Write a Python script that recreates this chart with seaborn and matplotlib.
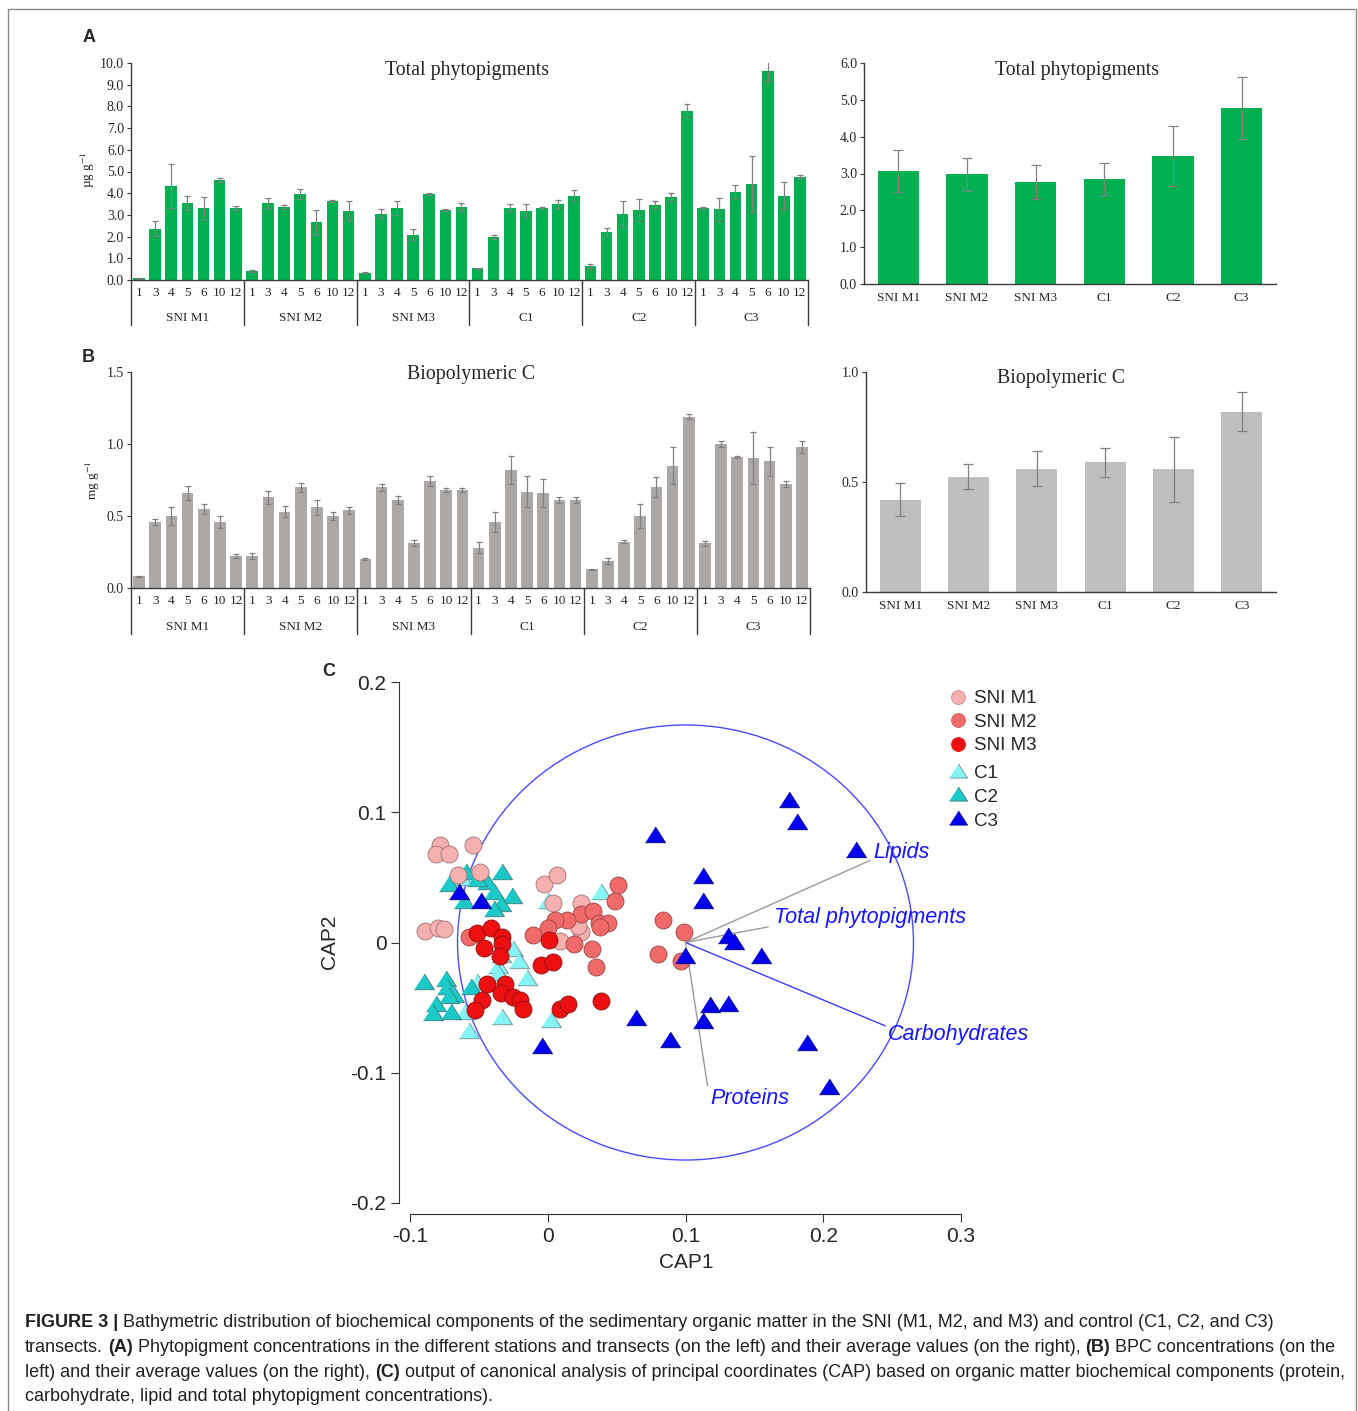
import numpy as np
import matplotlib
matplotlib.use("Agg")
import matplotlib.pyplot as plt
import matplotlib.transforms as mtrans
from matplotlib.lines import Line2D
from matplotlib.patches import Ellipse, Rectangle
from matplotlib.ticker import FormatStrFormatter
import seaborn as sns

# ---------------- data ----------------
stations = ["1", "3", "4", "5", "6", "10", "12"]
transects = ["SNI M1", "SNI M2", "SNI M3", "C1", "C2", "C3"]

# total phytopigments per station (ug/g), transect by transect
phyto = [0.08, 2.37, 4.33, 3.56, 3.30, 4.61, 3.33,
         0.42, 3.56, 3.37, 3.96, 2.65, 3.65, 3.19,
         0.33, 3.05, 3.31, 2.09, 3.96, 3.22, 3.37,
         0.54, 1.98, 3.33, 3.19, 3.33, 3.51, 3.89,
         0.63, 2.21, 3.05, 3.22, 3.45, 3.82, 7.80,
         3.33, 3.25, 4.06, 4.43, 9.61, 3.89, 4.75]
phyto_err = [0.03, 0.35, 1.03, 0.33, 0.53, 0.10, 0.10,
             0.03, 0.23, 0.08, 0.23, 0.58, 0.04, 0.46,
             0.02, 0.21, 0.33, 0.25, 0.06, 0.04, 0.19,
             0.02, 0.10, 0.15, 0.30, 0.02, 0.17, 0.25,
             0.09, 0.20, 0.60, 0.49, 0.20, 0.17, 0.29,
             0.05, 0.52, 0.33, 1.28, 0.46, 0.61, 0.07]
phyto_mean = [3.07, 2.98, 2.77, 2.85, 3.47, 4.77]
phyto_mean_err = [0.57, 0.45, 0.46, 0.44, 0.82, 0.84]

# biopolymeric C per station (mg/g)
bpc = [0.08, 0.46, 0.50, 0.66, 0.55, 0.46, 0.22,
       0.22, 0.63, 0.53, 0.70, 0.56, 0.50, 0.54,
       0.20, 0.70, 0.61, 0.31, 0.74, 0.68, 0.68,
       0.28, 0.46, 0.82, 0.67, 0.66, 0.61, 0.61,
       0.13, 0.19, 0.32, 0.50, 0.70, 0.85, 1.19,
       0.31, 1.00, 0.91, 0.90, 0.88, 0.72, 0.98]
bpc_err = [0.005, 0.02, 0.06, 0.05, 0.035, 0.04, 0.015,
           0.02, 0.045, 0.04, 0.03, 0.05, 0.03, 0.025,
           0.005, 0.025, 0.03, 0.02, 0.035, 0.012, 0.012,
           0.04, 0.07, 0.10, 0.11, 0.10, 0.02, 0.02,
           0.005, 0.02, 0.01, 0.08, 0.07, 0.13, 0.015,
           0.015, 0.02, 0.01, 0.18, 0.10, 0.02, 0.04]
bpc_mean = [0.42, 0.525, 0.56, 0.59, 0.557, 0.82]
bpc_mean_err = [0.075, 0.056, 0.08, 0.065, 0.148, 0.09]

# CAP scores
m1_x = [-0.078, -0.081, -0.072, -0.054, -0.065, -0.049, -0.089, -0.080, -0.075,
        -0.003, 0.007, 0.004, 0.024, 0.009, 0.024, 0.022]
m1_y = [0.075, 0.068, 0.068, 0.075, 0.052, 0.054, 0.009, 0.0115, 0.010,
        0.045, 0.052, 0.030, 0.030, 0.0015, 0.008, 0.013]
m2_x = [0.051, 0.049, 0.024, 0.033, 0.037, 0.044, 0.014, 0.005, 0.000, -0.011,
        0.019, 0.032, 0.035, 0.038, -0.057, 0.084, 0.099, 0.080, 0.097]
m2_y = [0.044, 0.032, 0.022, 0.024, 0.015, 0.015, 0.017, 0.017, 0.011, 0.006,
        -0.001, -0.005, -0.019, 0.012, 0.004, 0.017, 0.008, -0.009, -0.014]
m3_x = [-0.051, -0.041, -0.033, -0.033, -0.046, -0.035, 0.001, -0.005, 0.004, -0.044,
        -0.031, -0.034, -0.048, -0.053, -0.025, -0.020, -0.018, 0.009, 0.015, 0.039]
m3_y = [0.007, 0.011, 0.004, -0.0015, -0.004, -0.010, 0.002, -0.017, -0.015, -0.032,
        -0.032, -0.039, -0.044, -0.052, -0.042, -0.044, -0.051, -0.051, -0.047, -0.045]
c1_x = [-0.025, -0.021, -0.034, -0.036, -0.036, -0.015, -0.051, -0.060, -0.033, 0.002,
        -0.057, 0.000, 0.039, -0.062]
c1_y = [-0.006, -0.015, -0.010, -0.019, -0.024, -0.028, -0.031, -0.054, -0.058, -0.060,
        -0.069, 0.031, 0.038, 0.049]
c2_x = [-0.072, -0.059, -0.044, -0.033, -0.026, -0.039, -0.034, -0.039, -0.061, -0.051,
        -0.090, -0.074, -0.073, -0.068, -0.072, -0.056, -0.081, -0.083, -0.070]
c2_y = [0.044, 0.053, 0.046, 0.053, 0.035, 0.038, 0.029, 0.025, 0.031, 0.048,
        -0.031, -0.029, -0.035, -0.041, -0.042, -0.035, -0.048, -0.055, -0.054]
c3_x = [0.175, 0.181, 0.078, 0.2235, 0.1125, 0.1125, 0.131, 0.135, 0.155, 0.0995,
        0.1175, 0.131, 0.113, 0.064, 0.0885, 0.1885, 0.204, -0.0045, -0.0645, -0.0485]
c3_y = [0.109, 0.0915, 0.0815, 0.070, 0.050, 0.031, 0.004, 0.000, -0.0115, -0.0115,
        -0.0485, -0.048, -0.061, -0.059, -0.0755, -0.078, -0.1115, -0.080, 0.038, 0.031]

# correlation vectors (end points, drawn from the circle centre)
vec_names = ["Lipids", "Total phytopigments", "Carbohydrates", "Proteins"]
vec_x = [0.234, 0.160, 0.245, 0.116]
vec_y = [0.063, 0.012, -0.064, -0.110]

# ---------------- style ----------------
sns.set_style("ticks")
plt.rcParams["font.family"] = ["Liberation Serif", "DejaVu Serif"]
plt.rcParams["mathtext.fontset"] = "stix"
SANS = ["Liberation Sans", "DejaVu Sans"]

W, H = 1358, 1411
fig = plt.figure(figsize=(W / 100, H / 100), dpi=100)


def box(l, t, r, b):
    return [l / W, 1 - b / H, (r - l) / W, (b - t) / H]


def fx(px):
    return px / W


def fy(py):
    return 1 - py / H


GREEN = "#00b050"
GREY_BAR = "#aca8a6"
GREY_MEAN = "#bfbfbf"
ERR = "#808080"
AXC = "#3a3a3a"


def style_axes(ax):
    sns.despine(ax=ax)
    for s in ["left", "bottom"]:
        ax.spines[s].set_color(AXC)
        ax.spines[s].set_linewidth(1.0)
    ax.tick_params(axis="y", direction="out", length=3, width=0.8, color=AXC,
                   labelsize=10, pad=2)


def station_bars(ax, vals, errs, color, ymax, step, sep_depth, grp_y, fmt):
    x = np.arange(len(vals))
    sns.barplot(x=x, y=vals, color=color, saturation=1, width=0.72,
                errorbar=None, ax=ax, linewidth=0)
    ax.errorbar(x, vals, yerr=errs, fmt="none", ecolor=ERR, elinewidth=0.9,
                capsize=2.5, capthick=0.9)
    ax.set_xlim(-0.5, len(vals) - 0.5)
    ax.set_ylim(0, ymax)
    ax.set_yticks(np.arange(0, ymax + step / 2, step))
    ax.yaxis.set_major_formatter(FormatStrFormatter(fmt))
    ax.set_xticks(x)
    ax.set_xticklabels(stations * len(transects))
    ax.set_xlabel("")
    ax.set_ylabel("")
    style_axes(ax)
    ax.tick_params(axis="x", length=0, labelsize=9.5, pad=5)
    tr = mtrans.blended_transform_factory(ax.transData, ax.transAxes)
    n = len(stations)
    for i, name in enumerate(transects):
        ax.text(i * n + (n - 1) / 2, grp_y, name, transform=tr, ha="center",
                va="center", fontsize=9.5)
    for b in np.arange(-0.5, len(vals), n):
        ax.plot([b, b], [0, -sep_depth], transform=tr, color=AXC, lw=1.0,
                clip_on=False)


def mean_bars(ax, vals, errs, color, ymax, step, fmt):
    sns.barplot(x=transects, y=vals, color=color, saturation=1, width=0.6,
                errorbar=None, ax=ax, linewidth=0)
    ax.errorbar(np.arange(len(vals)), vals, yerr=errs, fmt="none", ecolor=ERR,
                elinewidth=0.9, capsize=3.5, capthick=0.9)
    ax.set_xlim(-0.5, len(vals) - 0.5)
    ax.set_ylim(0, ymax)
    ax.set_yticks(np.arange(0, ymax + step / 2, step))
    ax.yaxis.set_major_formatter(FormatStrFormatter(fmt))
    ax.set_xlabel("")
    ax.set_ylabel("")
    style_axes(ax)
    ax.tick_params(axis="x", length=0, labelsize=9.5, pad=6)


# ---- panel A ----
axA = fig.add_axes(box(131, 63, 808, 280))
station_bars(axA, phyto, phyto_err, GREEN, 10, 1, 45 / 217, -38 / 217, "%.1f")
axA2 = fig.add_axes(box(864, 63, 1276, 284))
mean_bars(axA2, phyto_mean, phyto_mean_err, GREEN, 6, 1, "%.1f")

# ---- panel B ----
axB = fig.add_axes(box(131, 372, 810, 588))
station_bars(axB, bpc, bpc_err, GREY_BAR, 1.5, 0.5, 46 / 216, -39 / 216, "%.1f")
axB2 = fig.add_axes(box(866, 372, 1276, 592))
mean_bars(axB2, bpc_mean, bpc_mean_err, GREY_MEAN, 1.0, 0.5, "%.1f")

for txt, px, py in [("Total phytopigments", 467, 70), ("Total phytopigments", 1077, 70),
                    ("Biopolymeric C", 471, 375), ("Biopolymeric C", 1061, 379)]:
    fig.text(fx(px), fy(py), txt, ha="center", va="center", fontsize=14.3)

fig.text(fx(88), fy(170), r"µg g$^{-1}$", rotation=90, ha="center", va="center", fontsize=9.5)
fig.text(fx(93), fy(480), r"mg g$^{-1}$", rotation=90, ha="center", va="center", fontsize=9.5)

for lab, px, py in [("A", 89, 37), ("B", 88, 357), ("C", 329, 672)]:
    fig.text(fx(px), fy(py), lab, ha="center", va="center", fontsize=13,
             fontweight="bold", family=SANS)

# ---- panel C ----
axC = fig.add_axes(box(410, 682, 961, 1203))
tri = [(-1.0, -0.62), (1.0, -0.62), (0.0, 0.95)]
groups = [
    ("C1", c1_x, c1_y, "#86f4f4", "#6a8f8f", tri, 210),
    ("C2", c2_x, c2_y, "#1cc9c9", "#3d7a7a", tri, 210),
    ("SNI M1", m1_x, m1_y, "#f6b0b0", "#a07070", "o", 150),
    ("SNI M2", m2_x, m2_y, "#f06a6a", "#9a4545", "o", 150),
    ("SNI M3", m3_x, m3_y, "#ee1010", "#8a1010", "o", 150),
    ("C3", c3_x, c3_y, "#0000ea", "#00007a", tri, 210),
]
for name, xs, ys, fc, ec, mk, s in groups:
    sns.scatterplot(x=xs, y=ys, color=fc, marker=mk, s=s, edgecolor=ec,
                    linewidth=0.6, ax=axC, zorder=3)

centre = (0.1, 0.0)
axC.add_patch(Ellipse(centre, 0.331, 0.334, fill=False, ec="#4a4aff", lw=1.0, zorder=2))
for name, vx, vy in zip(vec_names, vec_x, vec_y):
    col = "#3c3cff" if name == "Carbohydrates" else "#9a9a9a"
    axC.plot([centre[0], vx], [centre[1], vy], color=col, lw=1.0, zorder=2)
lab_pos = {"Lipids": (0.2365, 0.0692), "Total phytopigments": (0.164, 0.0192),
           "Carbohydrates": (0.2467, -0.0708), "Proteins": (0.1183, -0.1200)}
for name in vec_names:
    lx, ly = lab_pos[name]
    axC.text(lx, ly, name, color="#1414ff", style="italic", fontsize=15.5,
             family=SANS, ha="left", va="center", zorder=4)

axC.set_xlim(-0.1, 0.3)
axC.set_ylim(-0.2, 0.2)
sns.despine(ax=axC, offset=8)
axC.spines["left"].set_color("#333333")
axC.spines["bottom"].set_color("#333333")
axC.set_xticks([-0.1, 0, 0.1, 0.2, 0.3])
axC.set_xticklabels(["-0.1", "0", "0.1", "0.2", "0.3"], family=SANS)
axC.set_yticks([-0.2, -0.1, 0, 0.1, 0.2])
axC.set_yticklabels(["-0.2", "-0.1", "0", "0.1", "0.2"], family=SANS)
axC.tick_params(direction="out", length=6, width=0.8, color="#333333",
                labelsize=15, pad=3)
fig.text(fx(330), fy(942), "CAP2", rotation=90, ha="center", va="center",
         fontsize=15, family=SANS)
fig.text(fx(686), fy(1262), "CAP1", ha="center", va="center", fontsize=15, family=SANS)

leg_font = {"family": SANS, "size": 13.5}
h1 = [Line2D([], [], ls="", marker="o", ms=10, mfc=c, mec=e, mew=0.6)
      for c, e in [("#f6b0b0", "#c09090"), ("#f06a6a", "#c06060"), ("#ee1010", "#ee1010")]]
h2 = [Line2D([], [], ls="", marker=tri, ms=13, mfc=c, mec=e, mew=0.6)
      for c, e in [("#86f4f4", "#6a8f8f"), ("#1cc9c9", "#3d7a7a"), ("#0000ea", "#00007a")]]
fig.legend(h1, ["SNI M1", "SNI M2", "SNI M3"], loc="upper left",
           bbox_to_anchor=(fx(947), fy(690)), frameon=False, prop=leg_font,
           borderpad=0, borderaxespad=0, handletextpad=0.25, handlelength=1.2,
           labelspacing=0.35)
fig.legend(h2, ["C1", "C2", "C3"], loc="upper left",
           bbox_to_anchor=(fx(947), fy(765)), frameon=False, prop=leg_font,
           borderpad=0, borderaxespad=0, handletextpad=0.25, handlelength=1.2,
           labelspacing=0.35)

# ---- outer frame ----
fig.add_artist(Rectangle((fx(8), -0.01), (1356 - 8) / W, fy(9) + 0.01,
                         transform=fig.transFigure, fill=False, ec="#8a8a8a", lw=1.0))

# ---- caption ----
cap_lines = [
    [("FIGURE 3 |", True), (" Bathymetric distribution of biochemical components of the sedimentary "
                           "organic matter in the SNI (M1, M2, and M3) and control (C1, C2, and C3)", False)],
    [("transects. ", False), ("(A)", True), (" Phytopigment concentrations in the different stations and "
                                             "transects (on the left) and their average values (on the right), ", False),
     ("(B)", True), (" BPC concentrations (on the", False)],
    [("left) and their average values (on the right), ", False), ("(C)", True),
     (" output of canonical analysis of principal coordinates (CAP) based on organic matter "
      "biochemical components (protein,", False)],
    [("carbohydrate, lipid and total phytopigment concentrations).", False)],
]
CAP_FS = 12.95
renderer = fig.canvas.get_renderer()


def text_w(s, bold):
    t = fig.text(0, 0, s, fontsize=CAP_FS, family=SANS,
                 fontweight="bold" if bold else "normal")
    w = t.get_window_extent(renderer=renderer).width
    t.remove()
    return w


space_w = text_w("a a", False) - text_w("aa", False)
for i, parts in enumerate(cap_lines):
    xpx = 25
    base = 1327 + 24.8 * i
    for s, bold in parts:
        lead = len(s) - len(s.lstrip(" "))
        trail = len(s) - len(s.rstrip(" "))
        core = s.strip(" ")
        xpx += lead * space_w
        fig.text(fx(xpx), fy(base), core, fontsize=CAP_FS, family=SANS, va="baseline",
                 fontweight="bold" if bold else "normal", color="#231f20")
        xpx += text_w(core, bold) + trail * space_w

fig.savefig("out.png", dpi=100)
